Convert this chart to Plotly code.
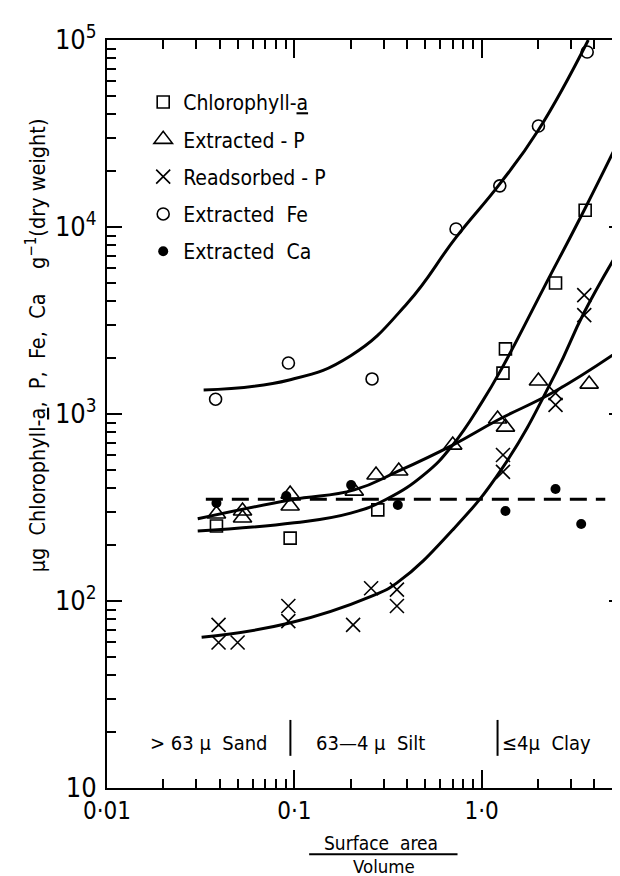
import plotly.graph_objects as go

FONT = "Liberation Sans Narrow, Arial Narrow, DejaVu Sans Condensed, sans-serif"

# ---- measured points ----
chl_x = [0.0384, 0.095, 0.279, 1.30, 1.34, 2.48, 3.57]
chl_y = [252, 217, 307, 1655, 2230, 5020, 12300]

extp_x = [0.0384, 0.0529, 0.0529, 0.095, 0.095, 0.209, 0.273, 0.361, 0.701, 1.217, 1.34, 2.01, 3.75]
extp_y = [292, 303, 278, 373, 322, 387, 472, 496, 682, 940, 851, 1500, 1445]

readp_x = [0.0394, 0.0394, 0.0498, 0.0929, 0.0929, 0.206, 0.257, 0.353, 0.353,
           1.30, 1.30, 2.48, 2.48, 3.53, 3.53]
readp_y = [74.5, 60, 60, 94, 78, 74.5, 117, 115, 94,
           604, 490, 1294, 1118, 4320, 3380]

fe_x = [0.038, 0.093, 0.26, 0.73, 1.25, 2.01, 3.66]
fe_y = [1200, 1875, 1540, 9760, 16600, 34700, 86300]

ca_x = [0.0384, 0.0906, 0.201, 0.357, 1.34, 2.48, 3.40]
ca_y = [334, 364, 417, 326, 303, 397, 258]

# ---- fitted curves ----
fe_fit_x = [0.0328, 0.094, 0.2, 0.4, 0.73, 1.25, 2.01, 3.71]
fe_fit_y = [1343, 1521, 2050, 3900, 8800, 17000, 33000, 100000]

chl_fit_x = [0.0305, 0.1, 0.2, 0.31, 0.5, 0.7, 1.0, 1.3, 2.14, 3.57, 5.75]
chl_fit_y = [237, 262, 295, 350, 480, 682, 1150, 1800, 4700, 12600, 33000]

extp_fit_x = [0.0305, 0.095, 0.209, 0.361, 0.70, 1.22, 2.48, 5.75]
extp_fit_y = [275, 347, 393, 496, 682, 929, 1327, 2270]

readp_fit_x = [0.032, 0.093, 0.257, 0.353, 0.70, 1.30, 2.48, 3.53, 5.75]
readp_fit_y = [64, 76, 106, 125, 240, 520, 1650, 3500, 8300]

ca_fit_x = [0.0337, 4.57]
ca_fit_y = [350, 350]

# ---- axis ticks ----
x_tickvals = [0.01, 0.1, 1]
x_ticktext = ["0·01", "0·1", "1·0"]
x_minor = [m * d for d in (0.01, 0.1, 1) for m in range(2, 10) if m * d < 5.8]
y_tickvals = [10, 100, 1000, 10000, 100000]
y_ticktext = ["10", "10<sup>2</sup>", "10<sup>3</sup>", "10<sup>4</sup>", "10<sup>5</sup>"]
y_minor = [m * d for d in (10, 100, 1000, 10000) for m in range(2, 10)]

fig = go.Figure()

LW = 3
for fx, fy, dash in [(fe_fit_x, fe_fit_y, "solid"), (chl_fit_x, chl_fit_y, "solid"),
                     (extp_fit_x, extp_fit_y, "solid"), (readp_fit_x, readp_fit_y, "solid"),
                     (ca_fit_x, ca_fit_y, "17px,9px")]:
    fig.add_trace(go.Scatter(x=fx, y=fy, mode="lines", showlegend=False, hoverinfo="skip",
                             line=dict(color="black", width=LW, shape="spline", smoothing=1.3, dash=dash)))

series = [
    ("Chlorophyll-<u>a</u>", chl_x, chl_y, dict(symbol="square-open", size=12, color="black", line=dict(width=1.6, color="black"))),
    ("Extracted - P", extp_x, extp_y, dict(symbol="triangle-up-open", size=16, color="black", line=dict(width=1.6, color="black"))),
    ("Readsorbed - P", readp_x, readp_y, dict(symbol="x-thin-open", size=14, color="black", line=dict(width=1.6, color="black"))),
    ("Extracted\u00a0\u00a0Fe", fe_x, fe_y, dict(symbol="circle-open", size=12, color="black", line=dict(width=1.6, color="black"))),
    ("Extracted\u00a0\u00a0Ca", ca_x, ca_y, dict(symbol="circle", size=10, color="black", line=dict(width=0))),
]
for i, (name, xs, ys, mk) in enumerate(series):
    fig.add_trace(go.Scatter(x=xs, y=ys, mode="markers", name=name, marker=mk,
                             legendgroup=f"g{i}", cliponaxis=False))

axis_common = dict(
    type="log", showgrid=False, zeroline=False, showline=True, linewidth=2, linecolor="black",
    mirror="allticks", ticks="inside", tickwidth=2, tickcolor="black",
)

fig.update_xaxes(
    **axis_common, range=[-2, 0.76], tickmode="array", tickvals=x_tickvals, ticktext=x_ticktext,
    ticklen=18, tickfont=dict(family=FONT, size=24, color="black"),
    minor=dict(tickmode="array", tickvals=x_minor, ticks="inside", ticklen=9, tickwidth=2, tickcolor="black"),
)
fig.update_yaxes(
    **axis_common, range=[1, 5], tickmode="array", tickvals=y_tickvals, ticktext=y_ticktext,
    ticklen=15, ticklabelstandoff=3, tickfont=dict(family=FONT, size=27, color="black"),
    minor=dict(tickmode="array", tickvals=y_minor, ticks="inside", ticklen=9, tickwidth=2, tickcolor="black"),
)

annos = [
    dict(text="µg\u00a0\u00a0Chlorophyll-<u>a</u>,\u00a0\u00a0P,\u00a0\u00a0Fe,\u00a0\u00a0Ca\u00a0\u00a0\u00a0\u00a0g<sup>−1</sup>(dry weight)",
         x=-0.137, y=0.592, textangle=-90, font=dict(size=21.5)),
    dict(text=">\u00a063\u00a0µ\u00a0\u00a0Sand", x=0.198, y=0.060, font=dict(size=20)),
    dict(text="63—4\u00a0µ\u00a0\u00a0Silt", x=0.509, y=0.060, font=dict(size=20)),
    dict(text="≤4µ\u00a0\u00a0Clay", x=0.850, y=0.060, font=dict(size=20)),
    dict(text="Surface\u00a0\u00a0area", x=0.530, y=-0.074, font=dict(size=19)),
    dict(text="Volume", x=0.536, y=-0.1045, font=dict(size=18.5)),
]
for a in annos:
    f = dict(family=FONT, color="black")
    f.update(a.pop("font"))
    fig.add_annotation(**a, xref="paper", yref="paper", showarrow=False, font=f,
                       xanchor="center", yanchor="middle")

fig.add_shape(type="line", xref="x", yref="paper", x0=0.0953, x1=0.0953, y0=0.043, y1=0.091,
              line=dict(color="black", width=2))
fig.add_shape(type="line", xref="x", yref="paper", x0=1.216, x1=1.216, y0=0.043, y1=0.091,
              line=dict(color="black", width=2))
fig.add_shape(type="line", xref="paper", yref="paper", x0=0.391, x1=0.678, y0=-0.0885, y1=-0.0885,
              line=dict(color="black", width=2))

fig.update_layout(
    width=620, height=876,
    margin=dict(l=99, r=2, t=32, b=96),
    paper_bgcolor="white", plot_bgcolor="white",
    font=dict(family=FONT, color="black"),
    showlegend=True,
    legend=dict(x=0.07, y=0.944, xanchor="left", yanchor="top", bgcolor="rgba(0,0,0,0)",
                borderwidth=0, font=dict(family=FONT, size=21, color="black"),
                traceorder="grouped", tracegroupgap=7, itemwidth=30),
)

fig.write_html("out.html")
